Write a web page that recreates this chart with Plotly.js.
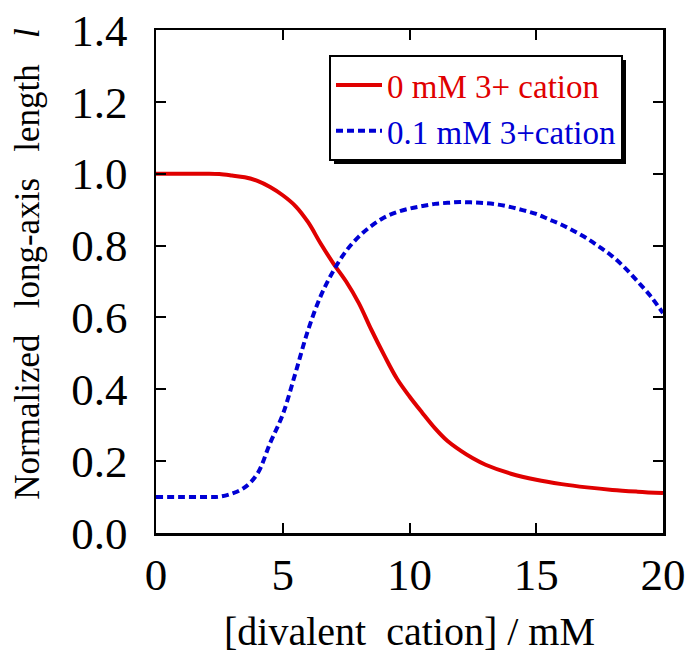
<!DOCTYPE html>
<html>
<head>
<meta charset="utf-8">
<script src="https://cdn.plot.ly/plotly-3.0.1.min.js"></script>
<style>html,body{margin:0;padding:0;background:#fff;}#chart{width:687px;height:656px;}</style>
</head>
<body>
<div id="chart"></div>
<script>
var xRed = [0, 1, 2, 2.5, 3, 3.5, 4, 4.5, 5, 5.5, 6, 6.5, 7, 7.5, 8, 8.5, 9, 9.5, 10, 10.5, 11, 11.5, 12, 12.5, 13, 14, 15, 16, 17, 18, 19, 20];
var yRed = [1.0, 1.0, 1.0, 0.999, 0.995, 0.99, 0.98, 0.963, 0.94, 0.91, 0.865, 0.805, 0.75, 0.70, 0.64, 0.565, 0.495, 0.43, 0.38, 0.335, 0.292, 0.256, 0.23, 0.208, 0.19, 0.165, 0.148, 0.136, 0.127, 0.12, 0.115, 0.111];
var xBlue = [0, 1, 2, 2.5, 3, 3.5, 4, 4.5, 5, 5.5, 6, 6.5, 7, 7.5, 8, 8.5, 9, 9.5, 10, 10.5, 11, 11.5, 12, 12.5, 13, 13.5, 14, 14.5, 15, 15.5, 16, 16.5, 17, 17.5, 18, 18.5, 19, 19.5, 20];
var yBlue = [0.1, 0.1, 0.1, 0.101, 0.11, 0.127, 0.165, 0.25, 0.33, 0.445, 0.565, 0.66, 0.73, 0.785, 0.825, 0.855, 0.878, 0.893, 0.903, 0.91, 0.916, 0.919, 0.921, 0.92, 0.918, 0.914, 0.907, 0.898, 0.888, 0.873, 0.858, 0.84, 0.82, 0.796, 0.77, 0.738, 0.70, 0.66, 0.612];
var seriesNames = ['0 mM 3+ cation', '0.1 mM 3+cation'];
var xTickVals = [0, 5, 10, 15, 20];
var yTickVals = [0, 0.2, 0.4, 0.6, 0.8, 1.0, 1.2, 1.4];
var yTickText = ['0.0', '0.2', '0.4', '0.6', '0.8', '1.0', '1.2', '1.4'];

var RED = '#e00000', BLUE = '#0000d4';
var FONT = '"Liberation Serif", "Times New Roman", serif';

var traces = [
  {x: xRed, y: yRed, mode: 'lines', name: '<span style="color:' + RED + '">' + seriesNames[0] + '</span>',
   line: {color: RED, width: 4, shape: 'spline'}},
  {x: xBlue, y: yBlue, mode: 'lines', name: '<span style="color:' + BLUE + '">' + seriesNames[1] + '</span>',
   line: {color: BLUE, width: 4, dash: '7px,4px', shape: 'spline'}}
];

var axisCommon = {
  showline: true, linecolor: '#000', linewidth: 2.5, mirror: 'ticks',
  ticks: 'inside', ticklen: 10, tickwidth: 2, tickcolor: '#000',
  showgrid: false, zeroline: false,
  tickfont: {family: FONT, size: 45, color: '#000'}
};

var layout = {
  width: 687, height: 656,
  margin: {l: 156, r: 24, t: 30, b: 123},
  paper_bgcolor: '#fff', plot_bgcolor: '#fff',
  showlegend: true,
  xaxis: Object.assign({}, axisCommon, {
    range: [0, 20], tickvals: xTickVals, ticklabelstandoff: 0,
    title: {text: '[divalent&nbsp; cation] / mM', font: {family: FONT, size: 40, color: '#000'}, standoff: 19}
  }),
  yaxis: Object.assign({}, axisCommon, {
    range: [0, 1.4], tickvals: yTickVals, ticktext: yTickText, ticklabelstandoff: 17,
    title: {text: '&nbsp;&nbsp;&nbsp;&nbsp;Normalized&nbsp;&nbsp; long-axis&nbsp;&nbsp; length&nbsp;&nbsp; <i>l</i>', font: {family: FONT, size: 35, color: '#000'}, standoff: 21}
  }),
  legend: {
    x: (329 - 156) / 507, y: (533 - 55) / 503, xanchor: 'left', yanchor: 'top',
    bgcolor: '#fff', bordercolor: '#000', borderwidth: 2,
    font: {family: FONT, size: 33, color: '#000'},
    tracegroupgap: 0, itemwidth: 46
  },
  shapes: []
};

Plotly.newPlot('chart', traces, layout, {displayModeBar: false, staticPlot: true}).then(function (gd) {
  var bg = gd.querySelector('.legend .bg');
  if (!bg) return;
  var r = bg.getBoundingClientRect();
  var c = gd.getBoundingClientRect();
  var sz = gd._fullLayout._size;
  var off = 4;
  var px0 = r.left - c.left + off, px1 = r.right - c.left + off;
  var py0 = r.top - c.top + off, py1 = r.bottom - c.top + off;
  return Plotly.relayout(gd, {shapes: [{
    type: 'rect', xref: 'paper', yref: 'paper', layer: 'above',
    x0: (px0 - sz.l) / sz.w, x1: (px1 - sz.l) / sz.w,
    y0: 1 - (py1 - sz.t) / sz.h, y1: 1 - (py0 - sz.t) / sz.h,
    fillcolor: '#000', line: {width: 0}
  }]});
});
</script>
</body>
</html>
